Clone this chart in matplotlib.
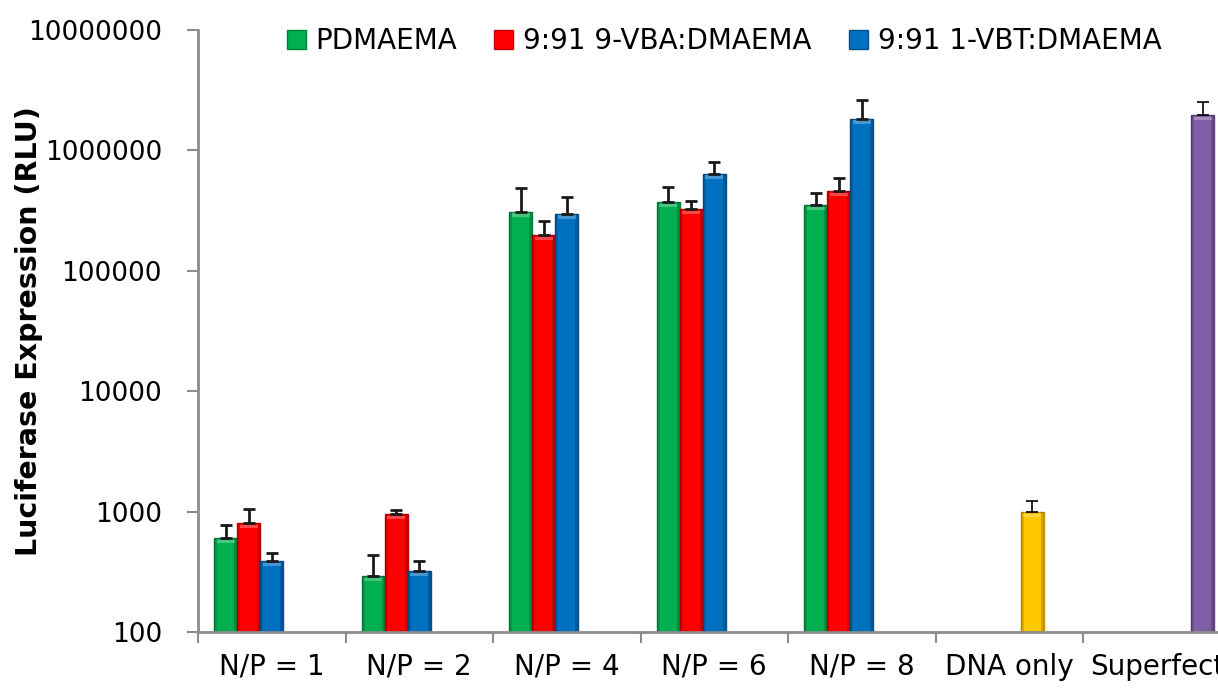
import numpy as np
import matplotlib.pyplot as plt
from matplotlib.ticker import FixedLocator, NullLocator

categories = ["N/P = 1", "N/P = 2", "N/P = 4", "N/P = 6", "N/P = 8", "DNA only", "Superfect"]

series_names = ["PDMAEMA", "9:91 9-VBA:DMAEMA", "9:91 1-VBT:DMAEMA"]
pdmaema = [600, 290, 310000, 370000, 350000]
pdmaema_err = [175, 145, 180000, 125000, 95000]
vba = [800, 950, 197000, 326000, 460000]
vba_err = [260, 80, 64000, 57000, 126000]
vbt = [387, 320, 297000, 638000, 1830000]
vbt_err = [70, 71, 116000, 158000, 780000]

dna_only = 990
dna_only_err = 240
superfect = 1950000
superfect_err = 560000

y_ticks = [100, 1000, 10000, 100000, 1000000, 10000000]

colors = ["#00B050", "#FF0000", "#0070C0"]
edges = ["#00803A", "#C00000", "#00508C"]

plt.rcParams['font.family'] = ['DejaVu Sans']

fig = plt.figure(figsize=(12.18, 7.0), dpi=100)
W, H = 1218, 700
x0, x1, y0, y1 = 198, 198 + 7 * 147.5, 632, 30
ax = fig.add_axes([x0 / W, 1 - y0 / H, (x1 - x0) / W, (y0 - y1) / H])

bw = 0.156
slot = lambda i: (i - 2) * bw


def shaded_bar(xs, heights, color, edge, **kw):
    """Bar with darker side strips and a light cap to give a rounded look."""
    bars = ax.bar(xs, heights, bw, color=color, edgecolor=edge, linewidth=1.0, zorder=2, **kw)
    xs = np.atleast_1d(xs)
    heights = np.atleast_1d(heights)
    strip = bw * 0.14
    ax.bar(xs - bw / 2 + strip / 2, heights, strip, color="black", alpha=0.12,
           linewidth=0, zorder=2.1)
    ax.bar(xs + bw / 2 - strip / 2, heights, strip, color="black", alpha=0.18,
           linewidth=0, zorder=2.1)
    # light band just under the top of the bar
    ax.bar(xs, heights * 0.06, bw * 0.8, bottom=heights * 0.91, color="white",
           alpha=0.28, linewidth=0, zorder=2.2)
    return bars


x = np.arange(5)
err_kw = dict(ecolor="#1a1a1a", elinewidth=2.0, capsize=4.5, capthick=2.0)
for i, (vals, errs) in enumerate([(pdmaema, pdmaema_err), (vba, vba_err), (vbt, vbt_err)]):
    shaded_bar(x + slot(i), vals, colors[i], edges[i], label=series_names[i])
    ax.errorbar(x + slot(i), vals, yerr=[np.zeros(5), errs], fmt="none", zorder=3, **err_kw)

thin_kw = dict(ecolor="black", elinewidth=1.2, capsize=4.5, capthick=1.2)
shaded_bar(5 + slot(3), dna_only, "#FFC800", "#C09000")
ax.errorbar(5 + slot(3), dna_only, yerr=[[0], [dna_only_err]], fmt="none", zorder=3, **thin_kw)
shaded_bar(6 + slot(4), superfect, "#7F5FA6", "#5C4080")
ax.errorbar(6 + slot(4), superfect, yerr=[[0], [superfect_err]], fmt="none", zorder=3, **thin_kw)

ax.set_yscale("log")
ax.set_ylim(100, 10000000)
ax.set_xlim(-0.5, 6.5)
ax.yaxis.set_major_locator(FixedLocator(y_ticks))
ax.yaxis.set_minor_locator(NullLocator())
ax.set_yticklabels([str(v) for v in y_ticks], fontsize=19)

ax.xaxis.set_major_locator(FixedLocator(np.arange(-0.5, 7, 1.0)))
ax.xaxis.set_minor_locator(FixedLocator(np.arange(7)))
ax.set_xticklabels([""] * 8)
ax.set_xticklabels(categories, minor=True, fontsize=20)

grey = "#8C8C8C"
for s in ["top", "right"]:
    ax.spines[s].set_visible(False)
for s in ["left", "bottom"]:
    ax.spines[s].set_color(grey)
    ax.spines[s].set_linewidth(2)
ax.tick_params(axis="y", which="major", length=8, width=1.5, color=grey, pad=18)
ax.tick_params(axis="x", which="major", length=8, width=1.5, color=grey)
ax.tick_params(axis="x", which="minor", length=0, pad=15)

ax.set_ylabel("Luciferase Expression (RLU)", fontsize=20.5, fontweight="bold")
ax.yaxis.set_label_coords(-(x0 - 43) / (x1 - x0), 0.5)

handles, labels = ax.get_legend_handles_labels()
fig.legend(handles, labels, loc="center", bbox_to_anchor=(724 / W, 1 - 41 / H), ncol=3,
           frameon=False, fontsize=20, handlelength=0.68, handleheight=0.68,
           handletextpad=0.36, columnspacing=1.33, borderpad=0)

fig.savefig("out.png", dpi=100)
